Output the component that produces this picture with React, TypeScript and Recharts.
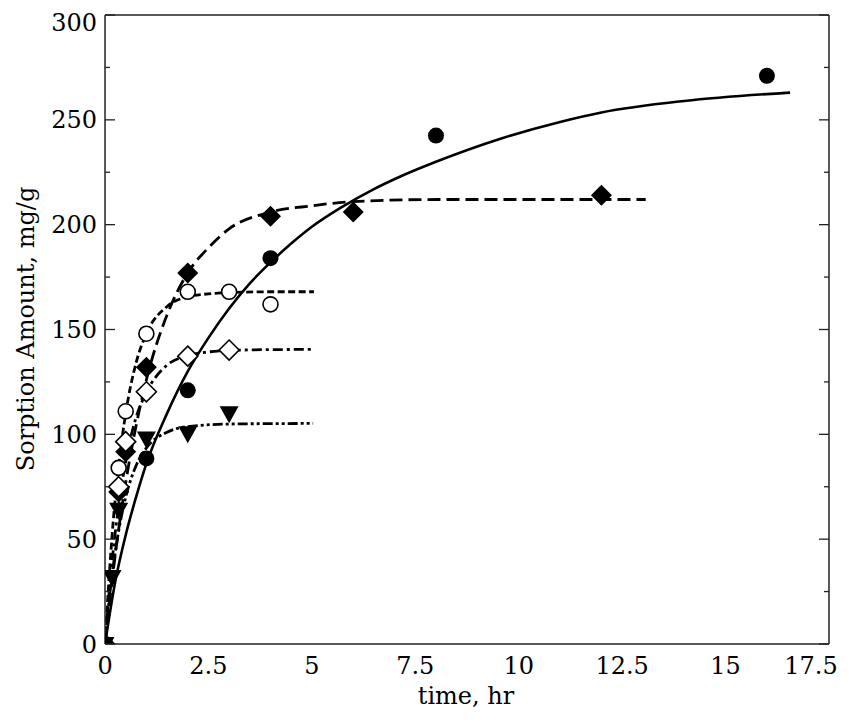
import React from 'react';
import { ComposedChart, Line, Scatter, XAxis, YAxis } from 'recharts';

const timeTicks = [0, 2.5, 5, 7.5, 10, 12.5, 15, 17.5];
const amountTicks = [0, 50, 100, 150, 200, 250, 300];
const timeMinorTicks = Array.from({ length: 36 }, (_, i) => i * 0.5);
const amountMinorTicks = Array.from({ length: 13 }, (_, i) => i * 25);

// measured points (time in hr, amount in mg/g)
const filledCircleTime = [0, 1, 2, 4, 8, 16];
const filledCircleAmount = [0, 88.5, 121, 184, 242.5, 271];

const filledDiamondTime = [0, 0.33, 0.5, 1, 2, 4, 6, 12];
const filledDiamondAmount = [0, 72.5, 91.7, 132, 177, 204, 206, 214];

const openCircleTime = [0.33, 0.5, 1, 2, 3, 4];
const openCircleAmount = [84, 111, 148, 168, 168, 162];

const openDiamondTime = [0.33, 0.5, 1, 2, 3];
const openDiamondAmount = [75, 96.5, 120.3, 137.3, 140.2];

const triangleTime = [0, 0.17, 0.33, 1, 2, 3];
const triangleAmount = [0, 32, 64, 98, 100.5, 110];

// fitted curves
const solidFitTime = [0, 0.25, 0.5, 0.75, 1, 1.5, 2, 2.5, 3, 3.5, 4, 4.5, 5, 5.69, 6.5, 7.14, 8, 9.56, 11, 12, 14, 16.56];
const solidFitAmount = [0, 30, 52, 70, 86, 110, 130, 146, 160, 172, 182, 191, 199, 208, 217, 223, 230, 241, 249, 253.5, 259, 263];

const longDashTime = [0, 0.25, 0.5, 0.75, 1, 1.5, 2, 2.5, 3, 4, 5, 6, 8, 10, 13.07];
const longDashAmount = [0, 43, 77, 104, 126, 157, 177, 189, 198, 206, 209, 211, 212, 212, 212];

const shortDashTime = [0, 0.1, 0.2, 0.33, 0.5, 0.75, 1, 1.5, 2, 2.5, 3, 4, 5.05];
const shortDashAmount = [0, 32, 59, 85, 110, 134, 148, 161, 165.6, 167, 167.6, 168, 168];

const dashDotTime = [0, 0.1, 0.2, 0.33, 0.5, 0.75, 1, 1.5, 2, 2.5, 3, 4, 5.03];
const dashDotAmount = [0, 25, 45, 66, 87, 108, 120, 133, 137.5, 139.3, 140, 140.4, 140.5];

const dashDotDotTime = [0, 0.1, 0.17, 0.25, 0.33, 0.5, 0.75, 1, 1.5, 2, 3, 4, 5.03];
const dashDotDotAmount = [0, 21, 33, 44, 54, 70, 85, 93.5, 101, 103.7, 104.9, 105.1, 105.2];

const rows = (ts: number[], qs: number[]) => ts.map((t, i) => ({ t, q: qs[i] }));

const font = 'DejaVu Serif';
const ink = '#000';
const thin = 0.01; // axis box size; CartesianAxis skips zero-size boxes

const FilledCircle = (p: any) => <circle cx={p.cx} cy={p.cy} r={8} fill={ink} />;
const OpenCircle = (p: any) => (
  <circle cx={p.cx} cy={p.cy} r={7.5} fill="#fff" stroke={ink} strokeWidth={1.6} />
);
const diamond = (cx: number, cy: number, r: number) =>
  `${cx},${cy - r} ${cx + r},${cy} ${cx},${cy + r} ${cx - r},${cy}`;
const FilledDiamond = (p: any) => <polygon points={diamond(p.cx, p.cy, 10.5)} fill={ink} />;
const OpenDiamond = (p: any) => (
  <polygon points={diamond(p.cx, p.cy, 10)} fill="#fff" stroke={ink} strokeWidth={1.6} />
);
const DownTriangle = (p: any) => (
  <polygon
    points={`${p.cx - 9.5},${p.cy - 7} ${p.cx + 9.5},${p.cy - 7} ${p.cx},${p.cy + 10}`}
    fill={ink}
  />
);

const XTick = ({ x, y, payload }: any) => (
  <text
    x={x + (payload.value === 17.5 ? -18 : 0)}
    y={y}
    dy="0.71em"
    textAnchor="middle"
    fontFamily={font}
    fontSize={24}
    fill={ink}
  >
    {payload.value}
  </text>
);

const YTick = ({ x, y, payload }: any) => (
  <text
    x={x}
    y={y + (payload.value === 300 ? 7 : 0)}
    dy="0.355em"
    textAnchor="end"
    fontFamily={font}
    fontSize={24}
    fill={ink}
  >
    {payload.value}
  </text>
);

const axisStroke = { stroke: '#222', strokeWidth: 1.5 };

// inward tick marks; with tickSize 0 and tickMargin 0 the tick renderer
// receives the point on the frame edge, so the mark is drawn from there
const tickMark = (side: 'top' | 'bottom' | 'left' | 'right', majorStep: number) => (p: any) => {
  const v = p.payload.value;
  const len = Math.abs(v / majorStep - Math.round(v / majorStep)) < 1e-6 ? 10 : 5;
  const { x, y } = p;
  const end =
    side === 'bottom' ? { x2: x, y2: y - len } :
    side === 'top' ? { x2: x, y2: y + len } :
    side === 'left' ? { x2: x + len, y2: y } :
    { x2: x - len, y2: y };
  return <line x1={x} y1={y} {...end} stroke="#222" strokeWidth={1.3} />;
};

const xTickAxis = (id: string, side: 'top' | 'bottom') => (
  <XAxis
    key={id}
    xAxisId={id}
    orientation={side}
    type="number"
    domain={[0, 17.5]}
    allowDataOverflow
    ticks={timeMinorTicks}
    interval={0}
    height={thin}
    tickSize={0}
    tickMargin={0}
    axisLine={false}
    tickLine={false}
    tick={tickMark(side, 2.5)}
  />
);
const yTickAxis = (id: string, side: 'left' | 'right') => (
  <YAxis
    key={id}
    yAxisId={id}
    orientation={side}
    type="number"
    domain={[0, 300]}
    allowDataOverflow
    ticks={amountMinorTicks}
    interval={0}
    width={thin}
    tickSize={0}
    tickMargin={0}
    axisLine={false}
    tickLine={false}
    tick={tickMark(side, 50)}
  />
);

export default function App() {
  return (
    <div style={{ position: 'absolute', left: 0, top: 0, background: '#fff' }}>
      <ComposedChart
        width={849}
        height={724}
        margin={{ top: 15, right: 20, bottom: 80, left: 105 }}
      >
        <XAxis
          type="number"
          dataKey="t"
          domain={[0, 17.5]}
          ticks={timeTicks}
          interval={0}
          height={thin}
          tickSize={0}
          tickMargin={13}
          axisLine={axisStroke}
          tickLine={false}
          tick={XTick}
          allowDataOverflow
          label={{
            content: () => (
              <text x={466} y={704} textAnchor="middle" fontFamily={font} fontSize={24} fill={ink}>
                time, hr
              </text>
            ),
          }}
        />
        <XAxis
          xAxisId="top"
          orientation="top"
          type="number"
          domain={[0, 17.5]}
          allowDataOverflow
          height={thin}
          axisLine={axisStroke}
          tickLine={false}
          tick={false}
        />
        {xTickAxis('bTicks', 'bottom')}
        {xTickAxis('tTicks', 'top')}
        <YAxis
          type="number"
          domain={[0, 300]}
          ticks={amountTicks}
          interval={0}
          width={thin}
          tickSize={0}
          tickMargin={8}
          axisLine={axisStroke}
          tickLine={false}
          tick={YTick}
          allowDataOverflow
          label={{
            content: () => (
              <text
                x={34}
                y={329}
                transform="rotate(-90 34 329)"
                textAnchor="middle"
                fontFamily={font}
                fontSize={24}
                fill={ink}
              >
                Sorption Amount, mg/g
              </text>
            ),
          }}
        />
        <YAxis
          yAxisId="right"
          orientation="right"
          type="number"
          domain={[0, 300]}
          allowDataOverflow
          width={thin}
          axisLine={axisStroke}
          tickLine={false}
          tick={false}
        />
        {yTickAxis('lTicks', 'left')}
        {yTickAxis('rTicks', 'right')}

        <Line
          data={rows(solidFitTime, solidFitAmount)}
          dataKey="q"
          type="monotone"
          stroke={ink}
          strokeWidth={2.6}
          dot={false}
          activeDot={false}
          isAnimationActive={false}
        />
        <Line
          data={rows(longDashTime, longDashAmount)}
          dataKey="q"
          type="monotone"
          stroke={ink}
          strokeWidth={2.8}
          strokeDasharray="13 6"
          dot={false}
          activeDot={false}
          isAnimationActive={false}
        />
        <Line
          data={rows(shortDashTime, shortDashAmount)}
          dataKey="q"
          type="monotone"
          stroke={ink}
          strokeWidth={2.8}
          strokeDasharray="7 3.5"
          dot={false}
          activeDot={false}
          isAnimationActive={false}
        />
        <Line
          data={rows(dashDotTime, dashDotAmount)}
          dataKey="q"
          type="monotone"
          stroke={ink}
          strokeWidth={2.8}
          strokeDasharray="10 4 3 4"
          dot={false}
          activeDot={false}
          isAnimationActive={false}
        />
        <Line
          data={rows(dashDotDotTime, dashDotDotAmount)}
          dataKey="q"
          type="monotone"
          stroke={ink}
          strokeWidth={2.8}
          strokeDasharray="10 3 3 3 3 3"
          dot={false}
          activeDot={false}
          isAnimationActive={false}
        />

        <Scatter
          data={rows(filledCircleTime, filledCircleAmount)}
          dataKey="q"
          shape={FilledCircle}
          isAnimationActive={false}
        />
        <Scatter
          data={rows(filledDiamondTime, filledDiamondAmount)}
          dataKey="q"
          shape={FilledDiamond}
          isAnimationActive={false}
        />
        <Scatter
          data={rows(triangleTime, triangleAmount)}
          dataKey="q"
          shape={DownTriangle}
          isAnimationActive={false}
        />
        <Scatter
          data={rows(openDiamondTime, openDiamondAmount)}
          dataKey="q"
          shape={OpenDiamond}
          isAnimationActive={false}
        />
        <Scatter
          data={rows(openCircleTime, openCircleAmount)}
          dataKey="q"
          shape={OpenCircle}
          isAnimationActive={false}
        />
      </ComposedChart>
    </div>
  );
}
